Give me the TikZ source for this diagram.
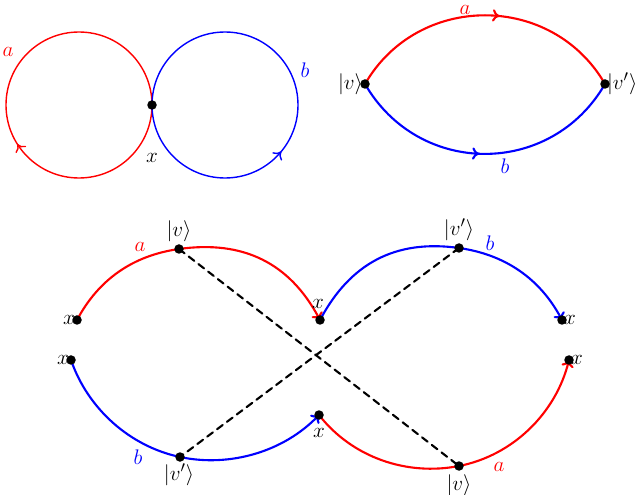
\documentclass[tikz,border=0pt]{standalone}
\usetikzlibrary{arrows.meta,decorations.markings}
\tikzset{
  loopline/.style={line width=0.8pt},
  arcline/.style={line width=1.2pt},
  midarrow/.style={postaction={decorate},decoration={markings,mark=at position #1 with {\arrow{>}}}},
  dotpt/.style={circle,fill=black,inner sep=0pt,minimum size=1.9mm},
  lbl/.style={inner sep=1pt}
}
\begin{document}
\begin{tikzpicture}[x=0.2mm,y=0.2mm,>={To[length=4pt,width=7pt]},line join=round,line cap=round,font=\fontsize{13}{16}\selectfont]
	\useasboundingbox (0,0) rectangle (640,494);
	% figure eight
	\coordinate (x0) at (152,389);
	\draw[red,loopline,midarrow=0.41] (x0) arc[start angle=0,end angle=-360,radius=73];
	\draw[blue,loopline,midarrow=0.39] (x0) arc[start angle=180,end angle=540,radius=73];
	\node[dotpt] (d0) at (x0) {};
	\node[lbl,red] (la0) at (8,442) {$a$};
	\node[lbl,blue] (lb0) at (305,424) {$b$};
	\node[lbl] (lx0) at (152,336) {$x$};
	% lens
	\coordinate (v1) at (365,410);
	\coordinate (w1) at (605,410);
	\draw[red,arcline,midarrow=0.55] (v1) to[out=60,in=120,looseness=1.13] (w1);
	\draw[blue,arcline,midarrow=0.48] (v1) to[out=-60,in=-120,looseness=1.15] (w1);
	\node[dotpt] (dv1) at (v1) {};
	\node[dotpt] (dw1) at (w1) {};
	\node[lbl,anchor=east] (lv1) at (v1) {$|v\rangle$};
	\node[lbl,anchor=west] (lw1) at (w1) {$|v'\rangle$};
	\node[lbl,red] (la1) at (465,484) {$a$};
	\node[lbl,blue] (lb1) at (505,328) {$b$};
	% unfolded
	\coordinate (xA) at (77,174);
	\coordinate (vT) at (179,245);
	\coordinate (xB) at (320,174);
	\coordinate (vpT) at (459,246);
	\coordinate (xC) at (562,174);
	\coordinate (xD) at (71,134);
	\coordinate (vpB) at (180,37);
	\coordinate (xE) at (319,79);
	\coordinate (vB) at (459,28);
	\coordinate (xF) at (569,134);
	\draw[arcline,dashed,dash pattern=on 4pt off 3pt] (vT) -- (vB) (vpT) -- (vpB);
	\draw[red,arcline,->] (xA) to[out=62,in=188,looseness=0.95] (vT) to[out=8,in=118,looseness=1.05] (xB);
	\draw[blue,arcline,->] (xB) to[out=62,in=172,looseness=1.05] (vpT) to[out=-8,in=118,looseness=0.95] (xC);
	\draw[blue,arcline,->] (xD) to[out=-71,in=168,looseness=0.9] (vpB) to[out=-12,in=226,looseness=0.9] (xE);
	\draw[red,arcline,->] (xE) to[out=-52,in=191,looseness=0.92] (vB) to[out=11,in=256,looseness=0.92] (xF);
	\foreach \p in {xA,vT,xB,vpT,xC,xD,vpB,xE,vB,xF}
		\node[dotpt] (d\p) at (\p) {};
	\node[lbl,anchor=east] (lxA) at (xA) {$x$};
	\node[lbl] (lvT) at (179,263) {$|v\rangle$};
	\node[lbl,red] (laT) at (140,247) {$a$};
	\node[lbl] (lxB) at (318,190) {$x$};
	\node[lbl] (lvpT) at (459,264) {$|v'\rangle$};
	\node[lbl,blue] (lbT) at (490,251) {$b$};
	\node[lbl,anchor=west] (lxC) at (xC) {$x$};
	\node[lbl,anchor=east] (lxD) at (xD) {$x$};
	\node[lbl,blue] (lbB) at (138,37) {$b$};
	\node[lbl] (lvpB) at (179,19) {$|v'\rangle$};
	\node[lbl] (lxE) at (319,61) {$x$};
	\node[lbl,anchor=north] (lvB) at (459,21) {$|v\rangle$};
	\node[lbl,red] (laB) at (499,27) {$a$};
	\node[lbl,anchor=west] (lxF) at (xF) {$x$};
\end{tikzpicture}
\end{document}
